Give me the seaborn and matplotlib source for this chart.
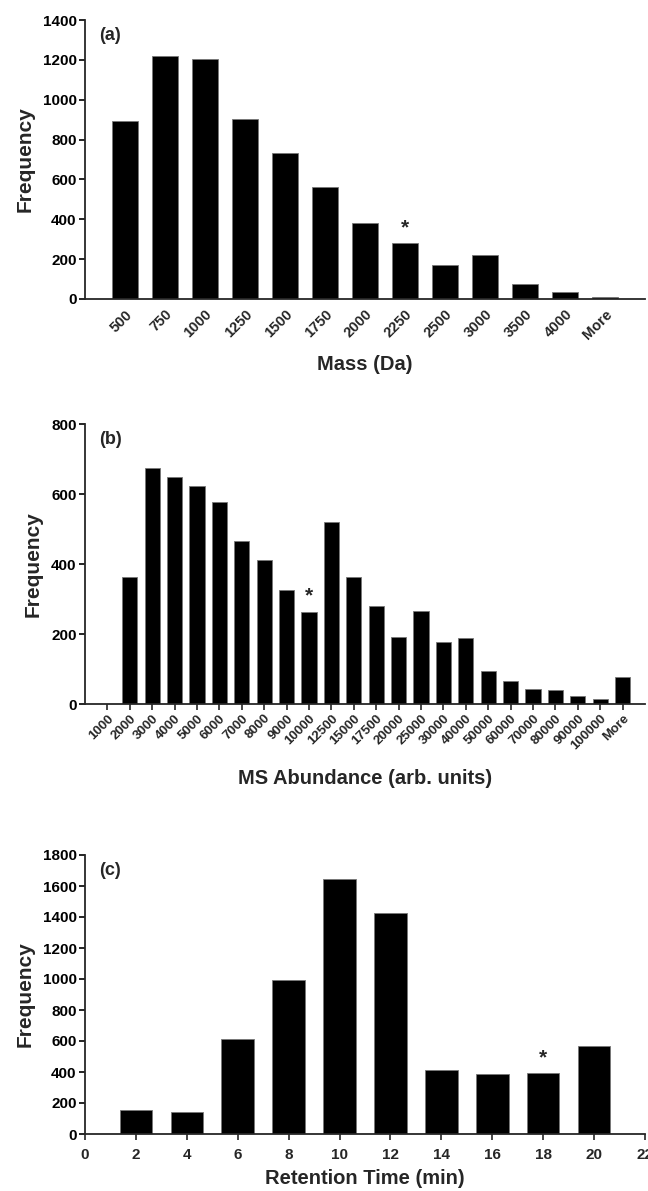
import numpy as np
import pandas as pd
import matplotlib
matplotlib.use("Agg")
import matplotlib.pyplot as plt
import seaborn as sns

# ---------------- data ----------------
mass_cats = ["500", "750", "1000", "1250", "1500", "1750", "2000", "2250",
             "2500", "3000", "3500", "4000", "More"]
mass_freq = [895, 1220, 1205, 905, 735, 560, 380, 282, 172, 222, 75, 37, 12]
mass_star = "2250"

abund_cats = ["1000", "2000", "3000", "4000", "5000", "6000", "7000", "8000",
              "9000", "10000", "12500", "15000", "17500", "20000", "25000",
              "30000", "40000", "50000", "60000", "70000", "80000", "90000",
              "100000", "More"]
abund_freq = [0, 362, 674, 650, 623, 578, 465, 412, 325, 262, 521, 364, 281,
              191, 265, 178, 188, 95, 65, 43, 41, 23, 14, 78]
abund_star = "10000"

rt_min = [2, 4, 6, 8, 10, 12, 14, 16, 18, 20]
rt_freq = [155, 140, 611, 991, 1645, 1425, 413, 389, 392, 567]
rt_star = 18

# ---------------- style ----------------
sns.set_theme(style="ticks")
plt.rcParams["font.family"] = ["Liberation Sans", "DejaVu Sans"]
plt.rcParams["font.weight"] = "bold"
plt.rcParams["axes.linewidth"] = 1.3
plt.rcParams["xtick.major.width"] = 1.2
plt.rcParams["ytick.major.width"] = 1.2
plt.rcParams["xtick.major.size"] = 4
plt.rcParams["ytick.major.size"] = 4

W, H = 648, 1191
fig = plt.figure(figsize=(W / 100, H / 100), dpi=100)

def axes_px(top, bottom, left=85, right=645):
    return fig.add_axes([left / W, 1 - bottom / H, (right - left) / W, (bottom - top) / H])

ax_a = axes_px(20, 299)
ax_b = axes_px(424, 704)
ax_c = axes_px(855, 1134)

bar_kw = dict(color="black", edgecolor="#777777", linewidth=0.6, saturation=1)

def common(ax, ymax, label, xlabel, xpad):
    for s in ["top", "right"]:
        ax.spines[s].set_visible(False)
    ax.set_ylim(0, ymax)
    ax.set_yticks(np.arange(0, ymax + 1, 200))
    ax.tick_params(axis="y", labelsize=11, pad=2, colors="black")
    for t in ax.get_yticklabels():
        t.set_fontweight("bold")
    ax.set_ylabel("Frequency", fontsize=15, fontweight="bold", labelpad=6)
    ax.set_xlabel(xlabel, fontsize=14.5, fontweight="bold", labelpad=xpad)
    ax.text(0.025, 0.975, label, transform=ax.transAxes, fontsize=13,
            fontweight="bold", va="top", ha="left")

# ---- panel (a) ----
df_a = pd.DataFrame({"Mass": mass_cats, "Frequency": mass_freq})
sns.barplot(data=df_a, x="Mass", y="Frequency", order=mass_cats, width=0.65,
            ax=ax_a, **bar_kw)
ax_a.set_xlim(-1.0, len(mass_cats))
common(ax_a, 1400, "(a)", "Mass (Da)", 9)
ax_a.tick_params(axis="x", length=0, labelsize=10.5, pad=6)
for t in ax_a.get_xticklabels():
    t.set_rotation(45); t.set_ha("right"); t.set_rotation_mode("anchor")
    t.set_fontweight("bold")
i = mass_cats.index(mass_star)
ax_a.text(i, mass_freq[i] + 25, "*", ha="center", va="bottom", fontsize=15, fontweight="bold")

# ---- panel (b) ----
df_b = pd.DataFrame({"Abund": abund_cats, "Frequency": abund_freq})
sns.barplot(data=df_b, x="Abund", y="Frequency", order=abund_cats, width=0.67,
            ax=ax_b, **bar_kw)
ax_b.set_xlim(-1.0, len(abund_cats))
common(ax_b, 800, "(b)", "MS Abundance (arb. units)", 12)
ax_b.tick_params(axis="x", length=4, labelsize=9.5, pad=2, direction="out")
for t in ax_b.get_xticklabels():
    t.set_rotation(45); t.set_ha("right"); t.set_rotation_mode("anchor")
    t.set_fontweight("bold")
i = abund_cats.index(abund_star)
ax_b.text(i, abund_freq[i] + 20, "*", ha="center", va="bottom", fontsize=15, fontweight="bold")

# ---- panel (c) ----
df_c = pd.DataFrame({"RT": rt_min, "Frequency": rt_freq})
sns.barplot(data=df_c, x="RT", y="Frequency", native_scale=True, width=0.64,
            ax=ax_c, **bar_kw)
ax_c.set_xlim(0, 22)
ax_c.set_xticks(np.arange(0, 23, 2))
common(ax_c, 1800, "(c)", "Retention Time (min)", 5)
ax_c.tick_params(axis="x", length=4, labelsize=11, pad=6, direction="out")
for t in ax_c.get_xticklabels():
    t.set_fontweight("bold")
i = rt_min.index(rt_star)
ax_c.text(rt_star, rt_freq[i] + 40, "*", ha="center", va="bottom", fontsize=15, fontweight="bold")

fig.savefig("out.png", dpi=100, facecolor="white")
